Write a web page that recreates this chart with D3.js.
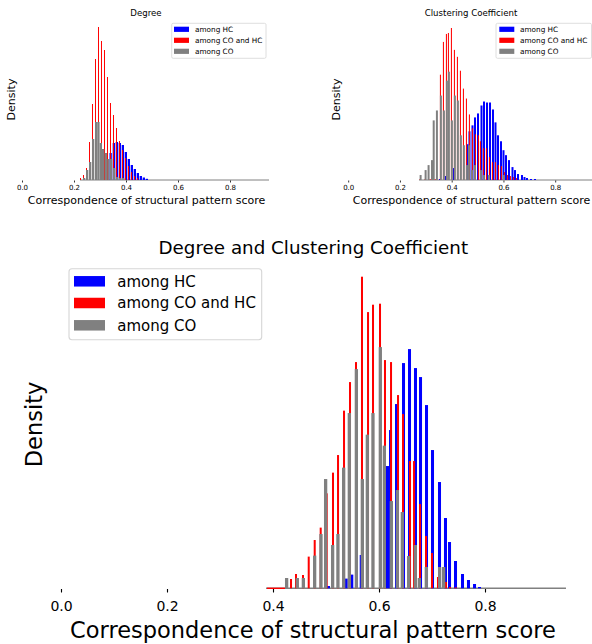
<!DOCTYPE html>
<html>
<head>
<meta charset="utf-8">
<script src="https://cdn.jsdelivr.net/npm/d3@7"></script>
<style>
body { margin: 0; background: #fff; }
text { font-family: "DejaVu Sans", sans-serif; fill: #000; }
</style>
</head>
<body>
<div id="vis-container"></div>
<script>
var seriesNames  = ["among HC", "among CO and HC", "among CO"];
var seriesColors = ["#0000ff", "#ff0000", "#808080"];
var tickValues   = [0.0, 0.2, 0.4, 0.6, 0.8];
var xLabel = "Correspondence of structural pattern score";
var yLabel = "Density";

// each bin: [bin start (score), density]
var degreeHC = [[0.3365,2.7],[0.3488,3.7],[0.3604,3.8],[0.3719,3.7],[0.3835,3.5],[0.3950,2.8],[0.4065,2.1],
    [0.4181,1.5],[0.4296,1.1],[0.4412,0.7],[0.4527,0.4],[0.4642,0.25],[0.4758,0.12]];
var degreeCOHC = [[0.2231,0.2],[0.2346,0.5],[0.2462,1.2],[0.2577,3.8],[0.2692,7.6],[0.2808,12.1],[0.2923,15.3],
    [0.3038,13.9],[0.3154,13.0],[0.3269,10.3],[0.3385,7.7],[0.3500,6.5],[0.3615,5.2],[0.3731,3.9],[0.3846,3.0],
    [0.3962,2.2],[0.4077,1.4],[0.4192,0.8],[0.4308,0.4],[0.4423,0.2]];
var degreeCO = [[0.2346,0.2],[0.2462,1.0],[0.2577,1.8],[0.2692,4.1],[0.2808,5.8],[0.2896,5.8],[0.2988,3.7],
    [0.3077,3.1],[0.3181,2.7],[0.3281,2.1],[0.3385,2.1],[0.3500,1.2],[0.3615,0.3],[0.3731,0.2],[0.3846,0.2]];
var degreeBinWidth = [0.0088, 0.0038, 0.0088];
var degreeRange = [0.2231, 0.95];

var ccHC = [[0.3509,0.1],[0.3741,0.4],[0.4050,1.2],[0.4572,3.6],[0.4649,4.9],[0.4765,5.5],[0.4862,6.3],
    [0.4978,6.7],[0.5113,7.5],[0.5210,7.9],[0.5326,7.8],[0.5442,7.8],[0.5557,7.1],[0.5654,5.8],[0.5751,4.5],
    [0.5867,3.9],[0.5963,3.0],[0.6060,2.5],[0.6176,2.0],[0.6311,1.3],[0.6408,1.0],[0.6524,0.6],[0.6678,0.5],
    [0.6775,0.3],[0.6872,0.2],[0.7026,0.1],[0.7181,0.1]];
var ccCOHC = [[0.2760,0.1],[0.2953,0.1],[0.3146,0.1],[0.3339,0.1],[0.3544,10.6],[0.3660,13.9],[0.3776,14.7],
    [0.3853,14.8],[0.3969,15.3],[0.4085,13.1],[0.4201,12.4],[0.4317,11.0],[0.4433,9.2],[0.4549,8.2],[0.4665,6.6],
    [0.4781,5.2],[0.4897,4.6],[0.5013,4.5],[0.5090,3.9],[0.5206,3.2],[0.5322,3.2],[0.5438,2.3],[0.5554,1.8],
    [0.5670,1.8],[0.5786,1.5],[0.5902,1.4],[0.6017,0.8],[0.6133,0.5],[0.6249,0.4],[0.6365,0.3],[0.6481,0.2]];
var ccCO = [[0.2760,0.5],[0.2953,1.0],[0.3068,1.5],[0.3200,2.0],[0.3266,6.0],[0.3390,7.0],[0.3544,8.5],
    [0.3660,7.0],[0.3776,10.0],[0.3853,10.9],[0.3969,6.0],[0.4085,8.5],[0.4201,8.0],[0.4317,4.5],[0.4433,3.5],
    [0.4549,1.5],[0.4626,3.5],[0.4742,1.0],[0.4858,1.5],[0.5090,1.0],[0.5206,0.5],[0.5399,0.5],[0.5978,0.5]];
var ccBinWidth = [0.0077, 0.004, 0.0077];
var ccRange = [0.2736, 0.95];

var bothHC = [[0.5019,0.23],[0.5353,0.97],[0.5458,1.37],[0.5636,3.33],[0.6132,12.23],[0.6189,15.83],
    [0.6302,18.43],[0.6434,22.53],[0.6547,23.93],[0.6660,22.03],[0.6755,21.13],[0.6868,18.33],[0.6981,13.83],
    [0.7113,10.63],[0.7226,7.03],[0.7302,4.63],[0.7415,2.73],[0.7547,1.43],[0.7660,0.83],[0.7774,0.43],[0.7868,0.13]];
var bothCOHC = [[0.4321,0.93],[0.4415,1.43],[0.4547,1.33],[0.4655,3.17],[0.4768,4.83],[0.4881,6.07],[0.4994,9.5],
    [0.5113,11.57],[0.5208,13.33],[0.5321,17.77],[0.5434,20.63],[0.5547,22.63],[0.5660,31.17],[0.5774,27.63],
    [0.5868,28.37],[0.6000,28.47],[0.6094,22.83],[0.6208,22.63],[0.6340,19.33],[0.6434,17.43],[0.6566,12.73],
    [0.6642,12.73],[0.6755,8.43],[0.6868,5.23],[0.6981,3.53],[0.7094,1.13],[0.7245,0.63],[0.7321,0.13],[0.7428,0.1]];
var bothCO = [[0.4226,1.03],[0.4428,1.03],[0.4542,1.03],[0.4755,3.27],[0.4874,5.43],[0.4962,10.93],[0.5094,4.33],
    [0.5194,5.43],[0.5302,12.07],[0.5409,17.53],[0.5542,21.93],[0.5655,10.93],[0.5749,15.37],[0.5855,17.53],
    [0.5994,24.13],[0.6070,14.27],[0.6202,8.73],[0.6315,9.83],[0.6409,7.63],[0.6528,3.23],[0.6655,4.33],
    [0.6730,1.03],[0.6862,2.13],[0.7113,2.13],[0.7189,2.13]];
var bothBinWidth = [0.0057, 0.0038, 0.0062];
var bothRange = [0.3868, 0.9528];
var bothRedRange = [0.3887, 0.4226];

var svg = d3.select("#vis-container").append("svg")
    .attr("width", 592)
    .attr("height", 644);

var small = {title: 8.6, label: 11, tick: 7, legend: 7.3, tickSize: 2, tickPad: 3, line: 1};
var big   = {title: 18.3, label: 22.5, tick: 14, legend: 15, tickSize: 3.5, tickPad: 9, line: 1.4};

var panels = [
    {title: "Degree", series: [degreeHC, degreeCOHC, degreeCO], widths: degreeBinWidth, range: degreeRange,
     x0: 22, x8: 230, base: 180, top: 27, f: small, titleX: 146, titleY: 15.7, xLabX: 146.5, xLabY: 204,
     yLabX: 14.5, yLabY: 99.5,
     legend: {x: 171.7, y: 23.3, w: 94.3, h: 35, px: 174, pw: 15, ph: 5.2, rows: [29.3, 40.3, 51.3], tx: 195}},
    {title: "Clustering Coefficient", series: [ccHC, ccCOHC, ccCO], widths: ccBinWidth, range: ccRange,
     x0: 348.2, x8: 555.2, base: 180, top: 28, f: small, titleX: 471, titleY: 15.7, xLabX: 471.5, xLabY: 204,
     yLabX: 339.5, yLabY: 99.5,
     legend: {x: 496, y: 23.3, w: 95.5, h: 35, px: 499.3, pw: 15, ph: 5.2, rows: [29.3, 40.3, 51.3], tx: 520}},
    {title: "Degree and Clustering Coefficient", series: [bothHC, bothCOHC, bothCO], widths: bothBinWidth,
     range: bothRange, redRange: bothRedRange,
     x0: 61, x8: 485, base: 588.3, top: 276.7, f: big, titleX: 313.3, titleY: 253.7, xLabX: 313, xLabY: 638,
     yLabX: 41.5, yLabY: 424.5,
     legend: {x: 69, y: 268.7, w: 192.7, h: 71, px: 74, pw: 31, ph: 10.5, rows: [281.3, 303, 325.3], tx: 117.3}}
];

var drawPanel = function(p) {
    var x = d3.scaleLinear().domain([0, 0.8]).range([p.x0, p.x8]);
    var yMax = d3.max(p.series, function(s) { return d3.max(s, function(d) { return d[1]; }); });
    var y = d3.scaleLinear().domain([0, yMax]).range([p.base, p.top]);

    var g = svg.append("g");

    // baseline left by the empty bins
    g.append("line")
        .attr("x1", x(p.range[0])).attr("x2", x(p.range[1]))
        .attr("y1", p.base).attr("y2", p.base)
        .attr("stroke", seriesColors[2]).attr("stroke-width", p.f.line);
    if (p.redRange) {
        g.append("line")
            .attr("x1", x(p.redRange[0])).attr("x2", x(p.redRange[1]))
            .attr("y1", p.base).attr("y2", p.base)
            .attr("stroke", seriesColors[1]).attr("stroke-width", p.f.line);
    }

    // bars: HC first, then CO and HC, then CO on top
    p.series.forEach(function(s, i) {
        var w = p.widths[i];
        g.append("g").selectAll("rect")
            .data(s)
            .enter().append("rect")
            .attr("x", function(d) { return x(d[0]); })
            .attr("width", function(d) { return x(d[0] + w) - x(d[0]); })
            .attr("y", function(d) { return y(d[1]); })
            .attr("height", function(d) { return p.base - y(d[1]); })
            .attr("fill", seriesColors[i]);
    });

    // x axis, no spine
    var ax = g.append("g")
        .attr("transform", "translate(0," + (p.base + p.f.line / 2) + ")")
        .call(d3.axisBottom(x)
            .tickValues(tickValues)
            .tickFormat(d3.format(".1f"))
            .tickSizeInner(p.f.tickSize)
            .tickSizeOuter(0)
            .tickPadding(p.f.tickPad));
    ax.select(".domain").remove();
    ax.selectAll(".tick line").attr("stroke", "#000").attr("stroke-width", p.f.line * 0.8);
    ax.selectAll(".tick text")
        .style("font-family", "DejaVu Sans")
        .style("font-size", p.f.tick + "px")
        .attr("fill", "#000");

    g.append("text")
        .attr("x", p.titleX).attr("y", p.titleY)
        .attr("text-anchor", "middle")
        .style("font-size", p.f.title + "px")
        .text(p.title);

    g.append("text")
        .attr("x", p.xLabX).attr("y", p.xLabY)
        .attr("text-anchor", "middle")
        .style("font-size", p.f.label + "px")
        .text(xLabel);

    g.append("text")
        .attr("transform", "translate(" + p.yLabX + "," + p.yLabY + ") rotate(-90)")
        .attr("text-anchor", "middle")
        .style("font-size", p.f.label + "px")
        .text(yLabel);

    // legend
    var L = p.legend;
    var lg = g.append("g");
    lg.append("rect")
        .attr("x", L.x).attr("y", L.y)
        .attr("width", L.w).attr("height", L.h)
        .attr("rx", p.f === big ? 3 : 1.5)
        .attr("fill", "#fff").attr("fill-opacity", 0.8)
        .attr("stroke", "#d6d6d6").attr("stroke-width", p.f.line * 0.8);
    seriesNames.forEach(function(name, i) {
        lg.append("rect")
            .attr("x", L.px).attr("y", L.rows[i] - L.ph / 2)
            .attr("width", L.pw).attr("height", L.ph)
            .attr("fill", seriesColors[i]);
        lg.append("text")
            .attr("x", L.tx).attr("y", L.rows[i])
            .attr("dy", "0.36em")
            .style("font-size", p.f.legend + "px")
            .text(name);
    });
};

panels.forEach(drawPanel);
</script>
</body>
</html>
